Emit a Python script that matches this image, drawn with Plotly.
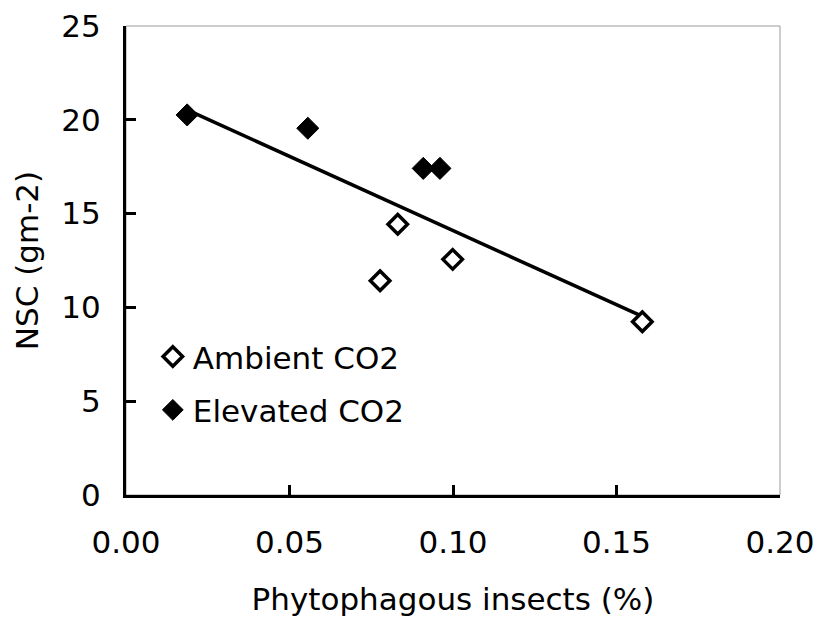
import numpy as np
import plotly.graph_objects as go

ambient_x = [0.0831, 0.0777, 0.0999, 0.1579]
ambient_y = [14.43, 11.42, 12.56, 9.24]
elevated_x = [0.0187, 0.0556, 0.0909, 0.0960]
elevated_y = [20.26, 19.55, 17.41, 17.41]
x_ticks = [0.00, 0.05, 0.10, 0.15, 0.20]
y_ticks = [0, 5, 10, 15, 20, 25]

all_x = np.array(ambient_x + elevated_x)
all_y = np.array(ambient_y + elevated_y)
slope, intercept = np.polyfit(all_x, all_y, 1)
fit_x = [all_x.min(), all_x.max()]
fit_y = [slope * v + intercept for v in fit_x]

FONT = "DejaVu Sans"
fig = go.Figure()
fig.add_trace(go.Scatter(x=fit_x, y=fit_y, mode="lines",
                         line=dict(color="black", width=3.5),
                         showlegend=False, hoverinfo="skip"))
fig.add_trace(go.Scatter(x=ambient_x, y=ambient_y, mode="markers", name="Ambient CO2",
                         legendgroup="a",
                         marker=dict(symbol="diamond", size=15, color="white",
                                     line=dict(color="black", width=3.5))))
fig.add_trace(go.Scatter(x=elevated_x, y=elevated_y, mode="markers", name="Elevated CO2",
                         legendgroup="e",
                         marker=dict(symbol="diamond", size=17, color="black",
                                     line=dict(color="black", width=1))))

fig.update_layout(
    width=819, height=617,
    margin=dict(l=125.5, r=38.5, t=26, b=122, autoexpand=False),
    plot_bgcolor="white", paper_bgcolor="white",
    font=dict(family=FONT, size=31, color="black"),
    showlegend=True,
    legend=dict(x=0.041, y=0.352, xanchor="left", yanchor="top",
                bgcolor="rgba(0,0,0,0)", font=dict(size=31),
                itemsizing="trace", tracegroupgap=10),
    shapes=[dict(type="rect", xref="x domain", yref="y domain", x0=0, x1=1, y0=0, y1=1,
                 line=dict(color="#9a9a9a", width=1), layer="below")],
)
fig.update_xaxes(range=[0, 0.2], tickvals=x_ticks,
                 ticktext=[f"{v:.2f}" for v in x_ticks],
                 ticks="inside", ticklen=10, tickwidth=2.5, tickcolor="black",
                 showline=True, linecolor="black", linewidth=3,
                 showgrid=False, zeroline=False,
                 ticklabelstandoff=18,
                 title=dict(text="Phytophagous insects (%)", font=dict(size=31), standoff=30))
fig.update_yaxes(range=[0, 25], tickvals=y_ticks,
                 ticks="inside", ticklen=10, tickwidth=2.5, tickcolor="black",
                 showline=True, linecolor="black", linewidth=3,
                 showgrid=False, zeroline=False,
                 ticklabelstandoff=16,
                 title=dict(text="NSC (gm-2)", font=dict(size=31), standoff=14))

fig.write_html("out.html", config={"displayModeBar": False},
               post_script="document.body.style.margin='0';document.body.style.overflow='hidden';")
